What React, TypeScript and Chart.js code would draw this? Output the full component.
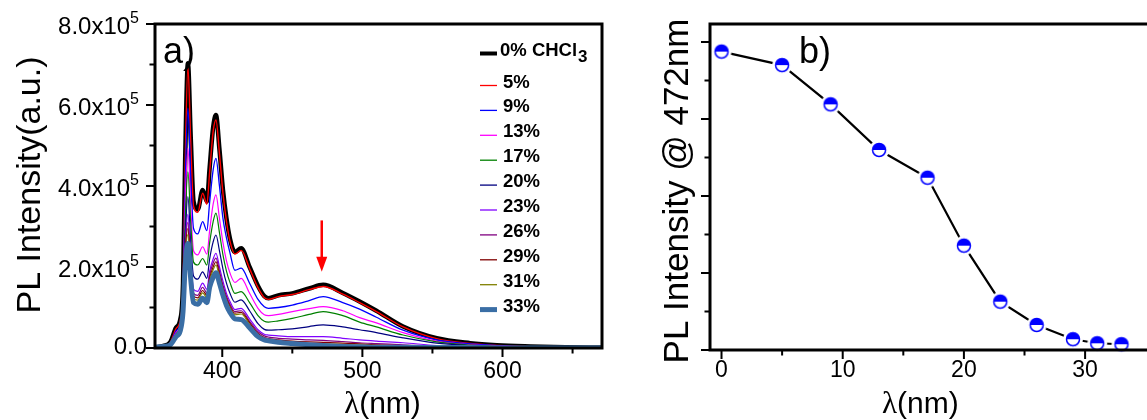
import React, { useEffect, useRef } from "react";
import { Chart, registerables } from "chart.js";

Chart.register(...registerables);

const SANS = '"Liberation Sans", Arial, sans-serif';
const SERIF = '"Liberation Serif", "Times New Roman", serif';

// ---------- Panel a) PL spectra (intensity in units of 1e5) ----------
const wavelengths = [352, 358, 363, 367, 370, 372, 373.5, 375.5, 377.5, 379.5, 382.5, 386, 389, 391, 393.5, 395.5, 398, 400.5, 403, 405.5, 409, 413.5, 419.5, 425.5, 430, 433, 440, 450, 462, 472, 486, 498, 510, 529, 553, 577, 596, 620, 645, 671];

const pl0 = [0.02, 0.05, 0.15, 0.5, 0.7, 1.6, 4.6, 7.03, 5.2, 3.62, 3.42, 3.9, 3.62, 4.45, 5.45, 5.75, 4.9, 3.9, 3.2, 2.7, 2.37, 2.46, 2.0, 1.53, 1.28, 1.23, 1.3, 1.35, 1.47, 1.56, 1.36, 1.15, 0.92, 0.53, 0.24, 0.12, 0.07, 0.04, 0.02, 0.01];
const pl5 = [0.02, 0.05, 0.14, 0.48, 0.68, 1.55, 4.5, 6.95, 5.1, 3.5, 3.35, 3.82, 3.55, 4.35, 5.35, 5.63, 4.8, 3.82, 3.13, 2.64, 2.32, 2.41, 1.96, 1.49, 1.24, 1.2, 1.27, 1.32, 1.44, 1.52, 1.33, 1.12, 0.9, 0.52, 0.23, 0.11, 0.06, 0.03, 0.02, 0.01];
const pl9 = [0.02, 0.04, 0.12, 0.42, 0.6, 1.4, 4.0, 5.92, 4.2, 2.95, 2.82, 3.12, 2.9, 3.6, 4.4, 4.68, 4.0, 3.2, 2.72, 2.35, 1.92, 1.97, 1.6, 1.2, 1.02, 0.98, 1.0, 1.06, 1.17, 1.27, 1.12, 0.96, 0.76, 0.44, 0.2, 0.1, 0.06, 0.03, 0.02, 0.01];
const pl13 = [0.02, 0.04, 0.11, 0.38, 0.55, 1.3, 3.5, 4.93, 3.5, 2.4, 2.3, 2.5, 2.32, 2.9, 3.55, 3.78, 3.2, 2.6, 2.15, 1.85, 1.62, 1.72, 1.35, 0.98, 0.82, 0.8, 0.83, 0.9, 0.97, 1.02, 0.92, 0.75, 0.62, 0.38, 0.17, 0.08, 0.05, 0.03, 0.02, 0.01];
const pl17 = [0.02, 0.04, 0.1, 0.35, 0.52, 1.2, 3.1, 4.35, 3.1, 2.12, 2.05, 2.21, 2.05, 2.6, 3.12, 3.33, 2.85, 2.3, 1.9, 1.62, 1.35, 1.39, 1.12, 0.8, 0.66, 0.64, 0.67, 0.73, 0.83, 0.9, 0.8, 0.64, 0.52, 0.32, 0.15, 0.07, 0.04, 0.02, 0.01, 0.01];
const pl20 = [0.02, 0.04, 0.1, 0.33, 0.5, 1.1, 2.7, 3.74, 2.6, 1.78, 1.7, 1.88, 1.72, 2.2, 2.62, 2.79, 2.4, 1.95, 1.6, 1.35, 1.13, 1.19, 0.92, 0.6, 0.46, 0.44, 0.45, 0.47, 0.53, 0.57, 0.52, 0.45, 0.38, 0.25, 0.12, 0.06, 0.03, 0.02, 0.01, 0.0];
const pl23 = [0.02, 0.04, 0.1, 0.32, 0.48, 1.05, 2.5, 3.3, 2.2, 1.45, 1.4, 1.6, 1.45, 1.9, 2.2, 2.34, 2.0, 1.65, 1.35, 1.15, 0.95, 0.98, 0.72, 0.45, 0.34, 0.32, 0.3, 0.28, 0.28, 0.28, 0.24, 0.2, 0.17, 0.13, 0.06, 0.03, 0.02, 0.01, 0.01, 0.0];
const pl26 = [0.02, 0.04, 0.09, 0.31, 0.47, 1.0, 2.4, 3.1, 2.05, 1.35, 1.3, 1.5, 1.36, 1.8, 2.1, 2.22, 1.9, 1.55, 1.28, 1.08, 0.9, 0.92, 0.66, 0.4, 0.3, 0.27, 0.24, 0.22, 0.2, 0.19, 0.16, 0.13, 0.11, 0.08, 0.04, 0.02, 0.01, 0.01, 0.0, 0.0];
const pl29 = [0.02, 0.04, 0.09, 0.3, 0.46, 0.98, 2.3, 2.95, 1.95, 1.28, 1.24, 1.42, 1.3, 1.72, 2.0, 2.13, 1.82, 1.48, 1.22, 1.03, 0.86, 0.88, 0.62, 0.36, 0.26, 0.23, 0.2, 0.17, 0.15, 0.14, 0.12, 0.1, 0.08, 0.06, 0.03, 0.02, 0.01, 0.01, 0.0, 0.0];
const pl31 = [0.02, 0.04, 0.09, 0.29, 0.44, 0.95, 2.2, 2.8, 1.85, 1.22, 1.18, 1.36, 1.25, 1.65, 1.93, 2.05, 1.75, 1.42, 1.17, 0.99, 0.82, 0.84, 0.58, 0.33, 0.23, 0.2, 0.16, 0.13, 0.11, 0.1, 0.09, 0.07, 0.06, 0.04, 0.02, 0.01, 0.01, 0.0, 0.0, 0.0];
const pl33 = [0.02, 0.04, 0.08, 0.28, 0.42, 0.9, 2.0, 2.58, 1.7, 1.12, 1.08, 1.23, 1.12, 1.5, 1.75, 1.86, 1.6, 1.3, 1.05, 0.88, 0.72, 0.7, 0.5, 0.28, 0.2, 0.18, 0.14, 0.11, 0.08, 0.06, 0.04, 0.03, 0.02, 0.02, 0.01, 0.01, 0.0, 0.0, 0.0, 0.0];

const seriesLabels = ["0% CHCl", "5%", "9%", "13%", "17%", "20%", "23%", "26%", "29%", "31%", "33%"];
const seriesColors = ["#000000", "#ff0000", "#0000ff", "#ff00ff", "#008000", "#000080", "#8000ff", "#800080", "#800000", "#808000", "#3a6ea5"];
const seriesWidths = [4.5, 1.4, 1.3, 1.2, 1.2, 1.2, 1.2, 1.2, 1.2, 1.2, 5];

const xTicksA = [400, 500, 600];
const xMinorA = [450, 550, 650];
const yTicksA = [0, 2, 4, 6, 8];
const yTickMainA = ["0.0", "2.0x10", "4.0x10", "6.0x10", "8.0x10"];
const yTickSupA = ["", "5", "5", "5", "5"];
const yMinorA = [1, 3, 5, 7];

const arrowWavelength = 471;
const arrowFrom = 3.15;
const arrowTo = 1.88;

// ---------- Panel b) intensity at 472 nm ----------
const concentrations = [0, 5, 9, 13, 17, 20, 23, 26, 29, 31, 33];
const intensity472 = [1.55, 1.48, 1.276, 1.039, 0.895, 0.542, 0.251, 0.13, 0.056, 0.035, 0.03];
const xTicksB = [0, 10, 20, 30];
const xMinorB = [5, 15, 25];
const yTicksB = [0, 0.4, 0.8, 1.2, 1.6];
const yMinorB = [0.2, 0.6, 1.0, 1.4];

function drawTicks(chart: any, xMajor: number[], xMinor: number[], yMajor: number[], yMinor: number[]) {
  const { ctx, chartArea: a, scales } = chart;
  const x = scales.x, y = scales.y;
  ctx.save();
  ctx.strokeStyle = "#000";
  ctx.lineWidth = 2;
  ctx.beginPath();
  xMajor.forEach((v) => { const p = x.getPixelForValue(v); ctx.moveTo(p, a.bottom); ctx.lineTo(p, a.bottom + 9); });
  xMinor.forEach((v) => { const p = x.getPixelForValue(v); ctx.moveTo(p, a.bottom); ctx.lineTo(p, a.bottom + 5.5); });
  yMajor.forEach((v) => { const p = y.getPixelForValue(v); ctx.moveTo(a.left, p); ctx.lineTo(a.left - 9, p); });
  yMinor.forEach((v) => { const p = y.getPixelForValue(v); ctx.moveTo(a.left, p); ctx.lineTo(a.left - 5.5, p); });
  ctx.stroke();
  ctx.restore();
}

function drawXTitle(ctx: CanvasRenderingContext2D, cx: number, baseline: number) {
  ctx.save();
  ctx.fillStyle = "#000";
  ctx.textBaseline = "alphabetic";
  ctx.textAlign = "left";
  ctx.font = `31px ${SERIF}`;
  const wl = ctx.measureText("λ").width;
  ctx.font = `30px ${SANS}`;
  const wr = ctx.measureText("(nm)").width;
  const x0 = cx - (wl + wr) / 2;
  ctx.font = `31px ${SERIF}`;
  ctx.fillText("λ", x0, baseline);
  ctx.font = `30px ${SANS}`;
  ctx.fillText("(nm)", x0 + wl, baseline);
  ctx.restore();
}

function drawYTitle(ctx: CanvasRenderingContext2D, text: string, baselineX: number, cy: number, size: number) {
  ctx.save();
  ctx.fillStyle = "#000";
  ctx.translate(baselineX, cy);
  ctx.rotate(-Math.PI / 2);
  ctx.textAlign = "center";
  ctx.textBaseline = "alphabetic";
  ctx.font = `${size}px ${SANS}`;
  ctx.fillText(text, 0, 0);
  ctx.restore();
}

const panelAPlugin = {
  id: "panelA",
  afterDraw(chart: any) {
    const { ctx, chartArea: a, scales } = chart;
    const x = scales.x, y = scales.y;
    // frame
    ctx.save();
    ctx.strokeStyle = "#000";
    ctx.lineWidth = 3;
    ctx.strokeRect(a.left, a.top, a.right - a.left, a.bottom - a.top);
    ctx.restore();
    drawTicks(chart, xTicksA, xMinorA, yTicksA, yMinorA);

    // y tick labels with superscript
    ctx.save();
    ctx.fillStyle = "#000";
    ctx.textBaseline = "middle";
    ctx.textAlign = "right";
    yTicksA.forEach((v, i) => {
      const p = y.getPixelForValue(v);
      const sup = yTickSupA[i];
      if (sup) {
        ctx.font = `16px ${SANS}`;
        const sw = ctx.measureText(sup).width;
        ctx.fillText(sup, a.left - 16, p - 5);
        ctx.font = `24px ${SANS}`;
        ctx.fillText(yTickMainA[i], a.left - 16 - sw, p + 3);
      } else {
        ctx.font = `24px ${SANS}`;
        ctx.fillText(yTickMainA[i], a.left - 8, p - 1);
      }
    });
    ctx.restore();

    drawYTitle(ctx, "PL Intensity(a.u.)", 40, 185, 34);
    drawXTitle(ctx, (a.left + a.right) / 2 + 4, 413);

    // panel label
    ctx.save();
    ctx.fillStyle = "#000";
    ctx.font = `36px ${SANS}`;
    ctx.textBaseline = "alphabetic";
    ctx.textAlign = "left";
    ctx.fillText("a)", a.left + 8, 63);
    ctx.restore();

    // arrow
    const ax = x.getPixelForValue(arrowWavelength);
    const ay0 = y.getPixelForValue(arrowFrom);
    const ay1 = y.getPixelForValue(arrowTo);
    ctx.save();
    ctx.strokeStyle = "#ff0000";
    ctx.fillStyle = "#ff0000";
    ctx.lineWidth = 2.5;
    ctx.beginPath();
    ctx.moveTo(ax, ay0);
    ctx.lineTo(ax, ay1 - 12);
    ctx.stroke();
    ctx.beginPath();
    ctx.moveTo(ax - 5.5, ay1 - 15);
    ctx.lineTo(ax + 5.5, ay1 - 15);
    ctx.lineTo(ax, ay1);
    ctx.closePath();
    ctx.fill();
    ctx.restore();

    // legend
    ctx.save();
    ctx.fillStyle = "#000";
    ctx.textBaseline = "middle";
    ctx.textAlign = "left";
    seriesLabels.forEach((lab, i) => {
      const cy = i === 0 ? 51 : 82.5 + (i - 1) * 24.9;
      const ly = cy + (i === 0 ? 2.5 : 3);
      ctx.strokeStyle = seriesColors[i];
      ctx.lineWidth = i === 0 ? 4 : i === 10 ? 5 : 1.3;
      ctx.beginPath();
      ctx.moveTo(480, ly);
      ctx.lineTo(497, ly);
      ctx.stroke();
      ctx.font = `bold 18.5px ${SANS}`;
      const tx = i === 0 ? 500 : 503;
      ctx.fillText(lab, tx, cy);
      if (i === 0) {
        const w = ctx.measureText(lab).width;
        ctx.font = `bold 17px ${SANS}`;
        ctx.fillText("3", tx + w + 1, cy + 6);
      }
    });
    ctx.restore();
  },
};

const panelBPlugin = {
  id: "panelB",
  afterDraw(chart: any) {
    const { ctx, chartArea: a } = chart;
    ctx.save();
    ctx.strokeStyle = "#000";
    ctx.lineWidth = 3;
    ctx.beginPath();
    ctx.moveTo(chart.width + 2, a.top);
    ctx.lineTo(a.left, a.top);
    ctx.lineTo(a.left, a.bottom);
    ctx.lineTo(chart.width + 2, a.bottom);
    ctx.stroke();
    ctx.restore();
    drawTicks(chart, xTicksB, xMinorB, yTicksB, yMinorB);
    drawYTitle(ctx, "PL Intensity @ 472nm", 38, 191, 35);
    drawXTitle(ctx, (a.left + a.right) / 2 - 4, 413);
    ctx.save();
    ctx.fillStyle = "#000";
    ctx.font = `36px ${SANS}`;
    ctx.textBaseline = "alphabetic";
    ctx.textAlign = "left";
    ctx.fillText("b)", 149, 63);
    ctx.restore();
  },
};

function makeMarker(): HTMLCanvasElement {
  const c = document.createElement("canvas");
  c.width = 22;
  c.height = 22;
  const g = c.getContext("2d")!;
  const cx = 11, cy = 11, r = 6.5;
  g.fillStyle = "#ffffff";
  g.beginPath();
  g.arc(cx, cy, 10, 0, Math.PI * 2);
  g.fill();
  g.beginPath();
  g.arc(cx, cy, r, 0, Math.PI * 2);
  g.fill();
  g.fillStyle = "#0000ff";
  g.beginPath();
  g.arc(cx, cy, r, Math.PI, Math.PI * 2);
  g.closePath();
  g.fill();
  g.strokeStyle = "#0000ff";
  g.lineWidth = 1.5;
  g.beginPath();
  g.arc(cx, cy, r, 0, Math.PI * 2);
  g.stroke();
  return c;
}

export default function App() {
  const refA = useRef<HTMLCanvasElement>(null);
  const refB = useRef<HTMLCanvasElement>(null);

  useEffect(() => {
    const spectra = [pl0, pl5, pl9, pl13, pl17, pl20, pl23, pl26, pl29, pl31, pl33];
    const tickFont = { family: SANS, size: 23 };

    const chartA = new Chart(refA.current!, {
      type: "line",
      data: {
        datasets: spectra.map((s, k) => ({
          label: seriesLabels[k],
          data: wavelengths.map((w, i) => ({ x: w, y: s[i] })),
          borderColor: seriesColors[k],
          borderWidth: seriesWidths[k],
          pointRadius: 0,
          cubicInterpolationMode: "monotone" as const,
          fill: false,
          order: 10 - k,
        })),
      },
      options: {
        responsive: false,
        animation: false,
        devicePixelRatio: 1,
        layout: { padding: { left: 0, top: 24, right: 48, bottom: 0 } },
        plugins: { legend: { display: false }, tooltip: { enabled: false } },
        scales: {
          x: {
            type: "linear",
            min: 352,
            max: 671,
            grid: { display: false, drawTicks: false },
            border: { display: false },
            ticks: { font: tickFont, color: "#000", padding: 10, maxRotation: 0 },
            afterBuildTicks: (s: any) => { s.ticks = xTicksA.map((v) => ({ value: v })); },
            afterFit: (s: any) => { s.height = 72; },
          },
          y: {
            type: "linear",
            min: 0,
            max: 8,
            grid: { display: false, drawTicks: false },
            border: { display: false },
            ticks: { display: false },
            afterFit: (s: any) => { s.width = 155; },
          },
        },
      } as any,
      plugins: [panelAPlugin],
    });

    const marker = makeMarker();
    const chartB = new Chart(refB.current!, {
      type: "line",
      data: {
        datasets: [
          {
            label: "PL @ 472nm",
            data: concentrations.map((c, i) => ({ x: c, y: intensity472[i] })),
            borderColor: "#000",
            borderWidth: 2.2,
            pointStyle: marker as any,
            pointRadius: 6,
            tension: 0,
            fill: false,
            clip: false as any,
          },
        ],
      },
      options: {
        responsive: false,
        animation: false,
        devicePixelRatio: 1,
        layout: { padding: { left: 0, top: 24, right: 0, bottom: 0 } },
        plugins: { legend: { display: false }, tooltip: { enabled: false } },
        scales: {
          x: {
            type: "linear",
            min: -0.95,
            max: 34.43,
            grid: { display: false, drawTicks: false },
            border: { display: false },
            ticks: { font: tickFont, color: "#000", padding: 7, maxRotation: 0 },
            afterBuildTicks: (s: any) => { s.ticks = xTicksB.map((v) => ({ value: v })); },
            afterFit: (s: any) => { s.height = 70; },
          },
          y: {
            type: "linear",
            min: 0,
            max: 1.6935,
            grid: { display: false, drawTicks: false },
            border: { display: false },
            ticks: { display: false },
            afterFit: (s: any) => { s.width = 60; },
          },
        },
      } as any,
      plugins: [panelBPlugin],
    });

    return () => {
      chartA.destroy();
      chartB.destroy();
    };
  }, []);

  return (
    <div style={{ position: "absolute", left: 0, top: 0, width: 1147, height: 420, background: "#fff", overflow: "hidden" }}>
      <canvas ref={refA} width={650} height={420} style={{ position: "absolute", left: 0, top: 0, width: 650, height: 420 }} />
      <canvas ref={refB} width={497} height={420} style={{ position: "absolute", left: 650, top: 0, width: 497, height: 420 }} />
    </div>
  );
}
